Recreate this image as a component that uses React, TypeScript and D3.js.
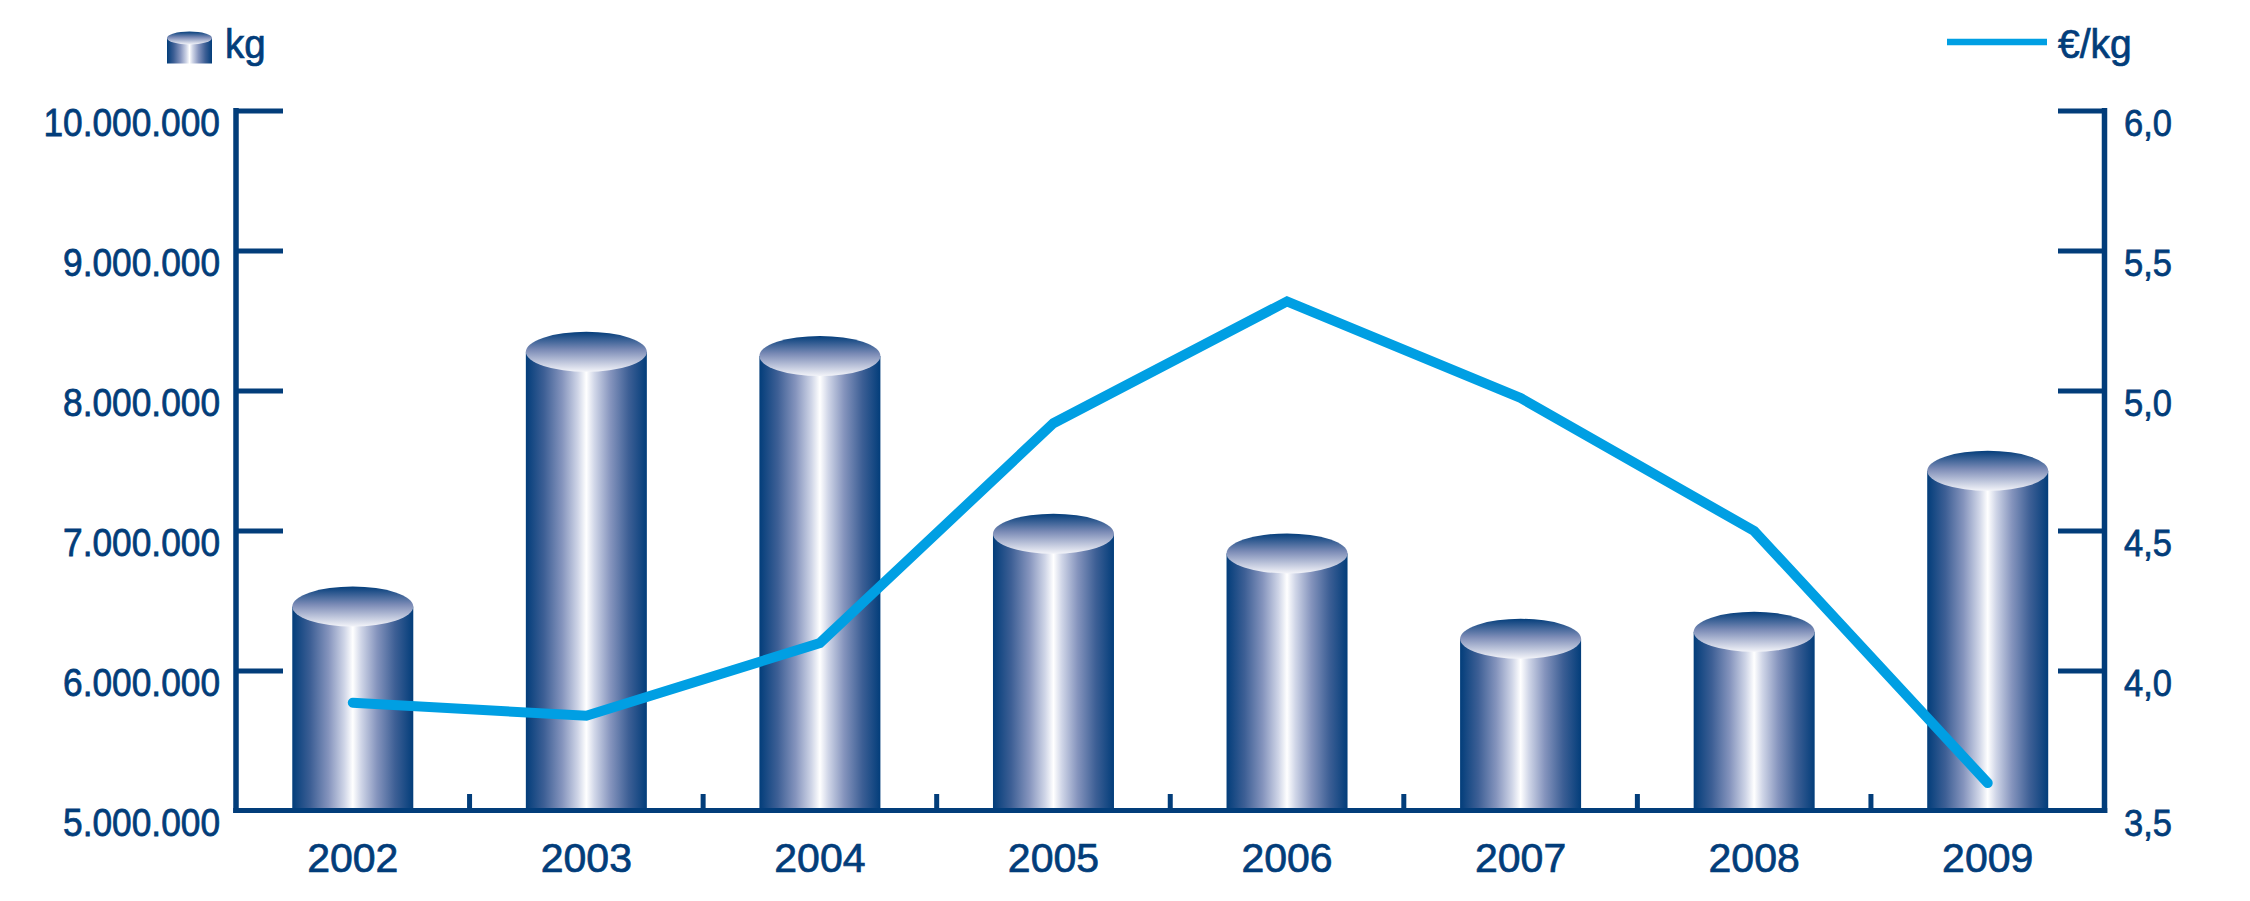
import React from "react";
import * as d3 from "d3";

const years = ["2002", "2003", "2004", "2005", "2006", "2007", "2008", "2009"];
const kgValues = [6460000, 8280000, 8250000, 6980000, 6840000, 6230000, 6280000, 7430000];
const priceValues = [3.887, 3.84, 4.1, 4.885, 5.32, 4.975, 4.5, 3.6];
const leftTicks = [5000000, 6000000, 7000000, 8000000, 9000000, 10000000];
const rightTicks = [3.5, 4.0, 4.5, 5.0, 5.5, 6.0];

const W = 2250;
const H = 901;
const DARK = "#023d7a";
const LINE = "#009fe3";

const locale = d3.formatLocale({ decimal: ",", thousands: ".", grouping: [3], currency: ["", "€"] });
const fmtL = locale.format(",d");
const fmtR = locale.format(".1f");

export default function App() {
  const x = d3.scaleBand<string>().domain(years).range([236, 2104.5]).padding(0);
  const yL = d3.scaleLinear().domain([5000000, 10000000]).range([811, 111]);
  const yR = d3.scaleLinear().domain([3.5, 6]).range([811, 111]);
  const bw = 121;
  const ry = 20;
  const baseTop = 808;
  const cx = (d: string) => (x(d) as number) + x.bandwidth() / 2;

  const line = d3
    .line<number>()
    .x((_, i) => cx(years[i]))
    .y((d) => yR(d));

  const textStyle: React.CSSProperties = {
    fontFamily: "'Liberation Sans', Arial, sans-serif",
    fill: DARK,
    stroke: DARK,
    strokeWidth: 0.7,
  };

  return (
    <svg width={W} height={H} style={{ position: "absolute", left: 0, top: 0, display: "block", background: "#fff" }}>
      <defs>
        <linearGradient id="body" x1="0" x2="1" y1="0" y2="0">
          <stop offset="0" stopColor="#023d7a" />
          <stop offset="0.15" stopColor="#3d5f95" />
          <stop offset="0.3" stopColor="#8594bd" />
          <stop offset="0.43" stopColor="#cfd5e7" />
          <stop offset="0.5" stopColor="#ffffff" />
          <stop offset="0.57" stopColor="#cfd5e7" />
          <stop offset="0.7" stopColor="#8594bd" />
          <stop offset="0.85" stopColor="#3d5f95" />
          <stop offset="1" stopColor="#023d7a" />
        </linearGradient>
        <linearGradient id="cap" x1="0" x2="0" y1="0" y2="1">
          <stop offset="0" stopColor="#043e7b" />
          <stop offset="0.45" stopColor="#7b8bb6" />
          <stop offset="1" stopColor="#f3f4f9" />
        </linearGradient>
      </defs>

      {/* bars */}
      {years.map((yr, i) => {
        const c = cx(yr);
        const top = yL(kgValues[i]);
        return (
          <g key={yr}>
            <rect x={c - bw / 2} y={top} width={bw} height={baseTop - top} fill="url(#body)" />
            <ellipse cx={c} cy={top} rx={bw / 2} ry={ry} fill="url(#cap)" />
          </g>
        );
      })}

      {/* left axis */}
      <line x1={236} x2={236} y1={108} y2={813} stroke={DARK} strokeWidth={5.5} />
      {leftTicks.map((t) => (
        <g key={t}>
          {t !== 5000000 && <line x1={236} x2={283} y1={yL(t)} y2={yL(t)} stroke={DARK} strokeWidth={5} />}
          <text transform={`translate(220,${yL(t) + 24.5}) scale(1,1.09)`} textAnchor="end" fontSize={35.3} style={textStyle}>
            {fmtL(t)}
          </text>
        </g>
      ))}

      {/* right axis */}
      <line x1={2104.5} x2={2104.5} y1={108} y2={813} stroke={DARK} strokeWidth={5.5} />
      {rightTicks.map((t) => (
        <g key={t}>
          {t !== 3.5 && <line x1={2058} x2={2104.5} y1={yR(t)} y2={yR(t)} stroke={DARK} strokeWidth={5} />}
          <text transform={`translate(2124,${yR(t) + 25}) scale(1,1.09)`} textAnchor="start" fontSize={34.5} style={textStyle}>
            {fmtR(t)}
          </text>
        </g>
      ))}

      {/* x axis */}
      <line x1={233.25} x2={2107.25} y1={810.5} y2={810.5} stroke={DARK} strokeWidth={5} />
      {years.slice(1).map((yr) => (
        <line key={yr} x1={x(yr) as number} x2={x(yr) as number} y1={794} y2={810} stroke={DARK} strokeWidth={5} />
      ))}
      {years.map((yr) => (
        <text key={yr} x={cx(yr)} y={872} textAnchor="middle" fontSize={41} style={textStyle}>
          {yr}
        </text>
      ))}

      {/* price line */}
      <path d={line(priceValues) || ""} fill="none" stroke={LINE} strokeWidth={10} strokeLinecap="round" strokeLinejoin="miter" />

      {/* legend left */}
      <rect x={167} y={38} width={45} height={25.5} fill="url(#body)" />
      <ellipse cx={189.5} cy={38} rx={22.5} ry={6.5} fill="url(#cap)" />
      <text transform="translate(225,58) scale(1,1.07)" fontSize={38.5} style={textStyle}>kg</text>

      {/* legend right */}
      <line x1={1947} x2={2047} y1={42} y2={42} stroke={LINE} strokeWidth={6.5} />
      <text transform="translate(2058,58) scale(1,1.05)" fontSize={39} style={textStyle}>€/kg</text>
    </svg>
  );
}
